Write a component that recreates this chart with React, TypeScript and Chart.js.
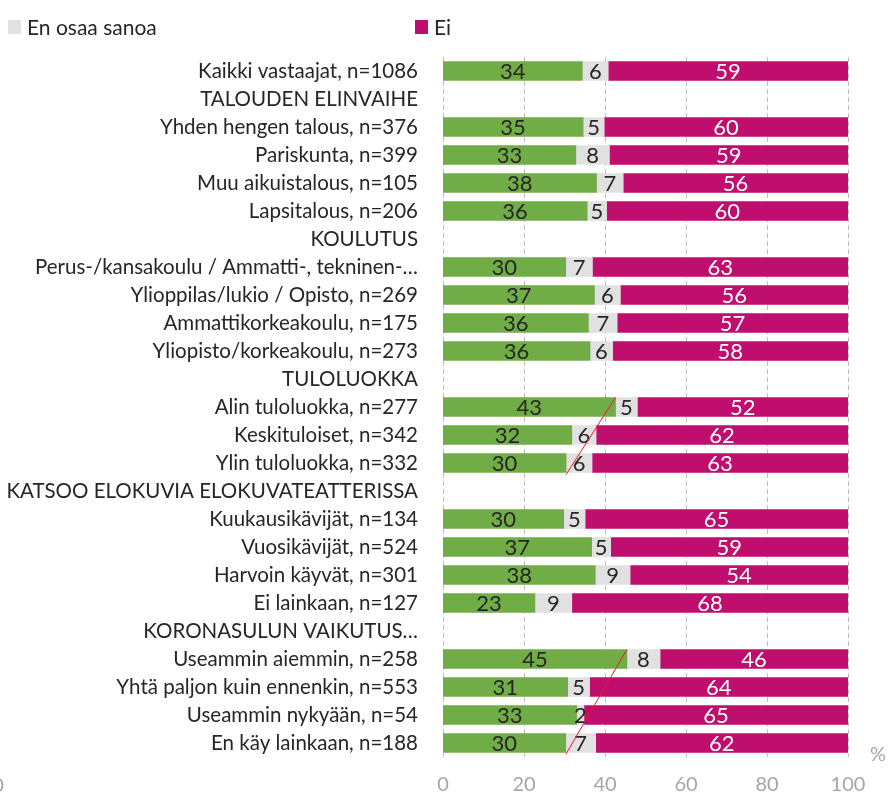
import React, { useEffect, useRef } from 'react';
import { Chart, registerables } from 'chart.js';

Chart.register(...registerables);

const categories = [
  'Kaikki vastaajat, n=1086',
  'TALOUDEN ELINVAIHE',
  'Yhden hengen talous, n=376',
  'Pariskunta, n=399',
  'Muu aikuistalous, n=105',
  'Lapsitalous, n=206',
  'KOULUTUS',
  'Perus-/kansakoulu / Ammatti-, tekninen-…',
  'Ylioppilas/lukio / Opisto, n=269',
  'Ammattikorkeakoulu, n=175',
  'Yliopisto/korkeakoulu, n=273',
  'TULOLUOKKA',
  'Alin tuloluokka, n=277',
  'Keskituloiset, n=342',
  'Ylin tuloluokka, n=332',
  'KATSOO ELOKUVIA ELOKUVATEATTERISSA',
  'Kuukausikävijät, n=134',
  'Vuosikävijät, n=524',
  'Harvoin käyvät, n=301',
  'Ei lainkaan, n=127',
  'KORONASULUN VAIKUTUS…',
  'Useammin aiemmin, n=258',
  'Yhtä paljon kuin ennenkin, n=553',
  'Useammin nykyään, n=54',
  'En käy lainkaan, n=188',
];

const seriesNames = ['Kyllä', 'En osaa sanoa', 'Ei'];

const yesValues = [34.4, null, 34.6, 32.8, 37.9, 35.6, null, 30.3, 37.4, 35.9, 36.3, null, 42.6, 31.8, 30.4, null, 29.8, 36.7, 37.6, 22.7, null, 45.4, 30.8, 33.0, 30.3];
const dontKnowValues = [6.4, null, 5.2, 8.3, 6.6, 4.8, null, 6.6, 6.4, 7.1, 5.6, null, 5.4, 6.0, 6.4, null, 5.3, 4.7, 8.6, 9.1, null, 8.2, 5.4, 1.8, 7.4];
const noValues = [59.2, null, 60.2, 58.9, 55.5, 59.6, null, 63.1, 56.2, 57.0, 58.1, null, 52.0, 62.2, 63.2, null, 64.9, 58.6, 53.8, 68.2, null, 46.4, 63.8, 65.2, 62.3];

const xTicks = [0, 20, 40, 60, 80, 100];

// pairs of category indexes joined by the red marker lines
const markerLines = [
  [12, 14],
  [21, 24],
];

const COLORS = ['#70AD47', '#E1E1E1', '#C00E6E'];
const LABEL_COLORS = ['#262626', '#262626', '#FFFFFF'];
const FONT = 'Lato, "Open Sans", sans-serif';

const overlayPlugin = {
  id: 'overlay',
  beforeDatasetsDraw(chart: any) {
    const ctx = chart.ctx;
    const area = chart.chartArea;
    const xs = chart.scales.x;
    ctx.save();
    ctx.strokeStyle = '#BFBFBF';
    ctx.lineWidth = 1;
    ctx.setLineDash([5, 3]);
    xTicks.forEach((v) => {
      const x = Math.round(xs.getPixelForValue(v)) + 0.5;
      ctx.beginPath();
      ctx.moveTo(x, area.top);
      ctx.lineTo(x, area.bottom);
      ctx.stroke();
    });
    ctx.restore();
  },
  afterDatasetsDraw(chart: any) {
    const ctx = chart.ctx;
    ctx.save();
    ctx.font = `22px ${FONT}`;
    ctx.textAlign = 'center';
    ctx.textBaseline = 'middle';
    chart.data.datasets.forEach((ds: any, di: number) => {
      const meta = chart.getDatasetMeta(di);
      meta.data.forEach((el: any, i: number) => {
        const v = ds.data[i];
        if (v == null) return;
        const p = el.getProps(['x', 'base', 'y'], true);
        ctx.fillStyle = LABEL_COLORS[di];
        ctx.fillText(String(Math.round(v)), (p.x + p.base) / 2, p.y + 1);
      });
    });
    const meta0 = chart.getDatasetMeta(0);
    ctx.strokeStyle = '#E8192C';
    ctx.lineWidth = 1;
    markerLines.forEach(([a, b]) => {
      const ea = meta0.data[a].getProps(['x', 'y', 'height'], true);
      const eb = meta0.data[b].getProps(['x', 'y', 'height'], true);
      ctx.beginPath();
      ctx.moveTo(ea.x, ea.y - ea.height / 2);
      ctx.lineTo(eb.x, eb.y + eb.height / 2 + 2);
      ctx.stroke();
    });
    ctx.restore();
  },
  afterDraw(chart: any) {
    const ctx = chart.ctx;
    const area = chart.chartArea;
    ctx.save();
    // legend
    const legendY = 27;
    const startX = 8;
    const step = 407;
    ctx.font = `21px ${FONT}`;
    ctx.textBaseline = 'middle';
    ctx.textAlign = 'left';
    seriesNames.forEach((name, i) => {
      const x = startX + (i - 1) * step;
      ctx.fillStyle = COLORS[i];
      ctx.fillRect(x, legendY - 7, 13, 14);
      ctx.fillStyle = '#262626';
      ctx.fillText(name, x + 19, legendY + 1);
    });
    // unit marker and cut-off secondary zero
    ctx.fillStyle = '#A6A6A6';
    ctx.font = `20px ${FONT}`;
    ctx.textAlign = 'center';
    ctx.fillText('%', area.right + 30, area.bottom - 2);
    ctx.fillText('0', -2, 786);
    ctx.restore();
  },
};

export default function App() {
  const ref = useRef<HTMLCanvasElement | null>(null);
  useEffect(() => {
    if (!ref.current) return;
    const chart = new Chart(ref.current, {
      type: 'bar',
      data: {
        labels: categories,
        datasets: [yesValues, dontKnowValues, noValues].map((vals, i) => ({
          label: seriesNames[i],
          data: vals,
          backgroundColor: COLORS[i],
          borderWidth: 0,
          barThickness: 19,
        })),
      },
      options: {
        indexAxis: 'y',
        animation: false,
        responsive: false,
        maintainAspectRatio: false,
        layout: { padding: { top: 57, right: 40, bottom: 3, left: 0 } },
        plugins: {
          legend: { display: false },
          tooltip: { enabled: false },
        },
        scales: {
          x: {
            stacked: true,
            min: 0,
            max: 100,
            afterBuildTicks: (scale: any) => {
              scale.ticks = xTicks.map((v) => ({ value: v }));
            },
            afterFit: (scale: any) => {
              scale.height = 41;
            },
            grid: { display: false, drawTicks: false },
            border: { display: false },
            ticks: {
              color: '#A6A6A6',
              font: { family: FONT, size: 20 },
              padding: 16,
            },
          },
          y: {
            stacked: true,
            grid: { display: false, drawTicks: false },
            border: { display: false },
            afterFit: (scale: any) => {
              scale.width = 443;
            },
            ticks: {
              color: '#262626',
              font: { family: FONT, size: 20.5 },
              padding: 25,
              autoSkip: false,
            },
          },
        },
      },
      plugins: [overlayPlugin],
    });
    return () => chart.destroy();
  }, []);
  return (
    <div style={{ position: 'fixed', left: 0, top: 0, width: 888, height: 801, background: '#fff' }}>
      <canvas ref={ref} width={888} height={801} style={{ display: 'block' }} />
    </div>
  );
}
